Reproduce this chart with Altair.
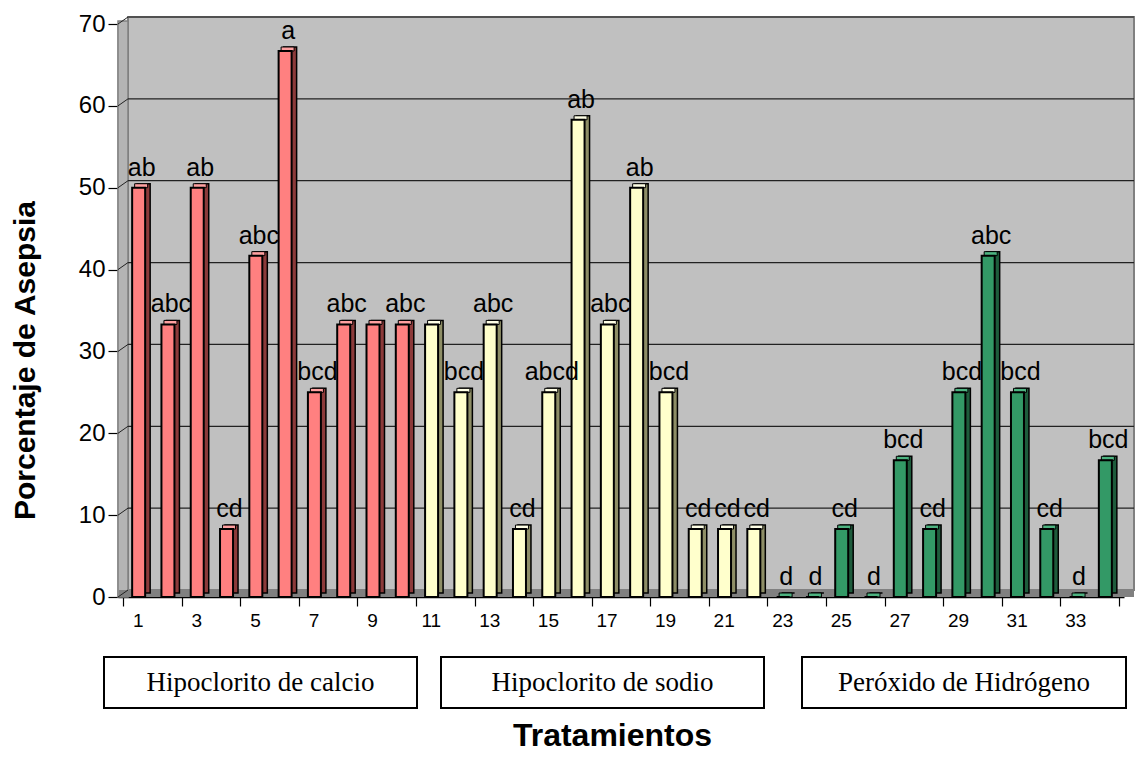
import altair as alt
import pandas as pd

# ---- data ----
tratamientos = list(range(1, 35))
asepsia = [50, 33.3, 50, 8.3, 41.7, 66.7, 25, 33.3, 33.3, 33.3,
           33.3, 25, 33.3, 8.3, 25, 58.3, 33.3, 50, 25, 8.3, 8.3, 8.3,
           0, 0, 8.3, 0, 16.7, 8.3, 25, 41.7, 25, 8.3, 0, 16.7]
letras = ["ab", "abc", "ab", "cd", "abc", "a", "bcd", "abc", "", "abc",
          "", "bcd", "abc", "cd", "abcd", "ab", "abc", "ab", "bcd", "cd", "cd", "cd",
          "d", "d", "cd", "d", "bcd", "cd", "bcd", "abc", "bcd", "cd", "d", "bcd"]
grupos = ["Hipoclorito de calcio", "Hipoclorito de sodio", "Peróxido de Hidrógeno"]
grupo = [grupos[0]] * 10 + [grupos[1]] * 12 + [grupos[2]] * 12
y_ticks = [0, 10, 20, 30, 40, 50, 60, 70]
grid_vals = [10, 20, 30, 40, 50, 60, 70]
x_tick_vals = [i + 0.5 for i in range(0, 35)]

# ---- styles ----
col_front = ["#FF8080", "#FFFFCC", "#339966"]
col_side = ["#8C3A3A", "#8E8E66", "#1E5C3C"]
col_top = ["#FFA0A0", "#FFFFE6", "#4DB380"]
W, H = 1006, 573
FONT = "Liberation Sans"

df = pd.DataFrame({"Tratamiento": tratamientos, "Asepsia": asepsia,
                   "Letra": letras, "Grupo": grupo})
dfg = pd.DataFrame({"v": grid_vals})
dft = pd.DataFrame({"v": y_ticks})
one = pd.DataFrame({"a": [0]})

xscale = alt.Scale(domain=[0.5, 34.5], nice=False, zero=False)
yscale = alt.Scale(domain=[0, 70], nice=False)

x_enc = alt.X("Tratamiento:Q", scale=xscale,
              axis=alt.Axis(values=x_tick_vals, tickSize=9, tickColor="black",
                            domainColor="black", domainWidth=1.5, tickWidth=1.2,
                            labelExpr="(datum.value + 0.5) % 2 == 1 && datum.value < 34 ? format(datum.value + 0.5, 'd') : ''",
                            labelOffset=14.8, labelFontSize=19, labelFont=FONT,
                            labelColor="black", labelPadding=5, labelOverlap=False,
                            labelFlush=False, grid=False,
                            title="Tratamientos", titleFont=FONT, titleFontSize=32,
                            titleFontWeight="bold", titleColor="black",
                            titleX=494, titleY=138, titleBaseline="middle"))
y_enc = alt.Y("Asepsia:Q", scale=yscale,
              axis=alt.Axis(values=y_ticks, tickSize=10, tickColor="black",
                            domainColor="black", domainWidth=1.5, tickWidth=1.2,
                            labelFontSize=24, labelFont=FONT, labelColor="black",
                            labelPadding=3, grid=False,
                            title="Porcentaje de Asepsia", titleFont=FONT,
                            titleFontSize=30, titleFontWeight="bold",
                            titleColor="black", titleX=-93, titleY=336,
                            titleBaseline="middle"))

# 3D walls
wall = alt.Chart(one).mark_rect(fill="#C0C0C0", stroke="#808080", strokeWidth=2).encode(
    x=alt.value(10), x2=alt.value(W + 10), y=alt.value(-7), y2=alt.value(H - 7))
side_wall = alt.Chart(one).mark_rect(fill="#B4B4B4", stroke="#808080", strokeWidth=1.5).encode(
    x=alt.value(0), x2=alt.value(10), y=alt.value(-3), y2=alt.value(H))
floor = alt.Chart(one).mark_rect(fill="#808080").encode(
    x=alt.value(1), x2=alt.value(W + 10), y=alt.value(H - 7), y2=alt.value(H))

grid = alt.Chart(dfg).mark_rule(color="#222222", strokeWidth=1.2, yOffset=-7).encode(
    y=alt.Y("v:Q", scale=yscale), x=alt.value(10), x2=alt.value(W + 10))
diag = alt.Chart(dft).mark_rule(color="#222222", strokeWidth=1, y2Offset=-7).encode(
    y=alt.Y("v:Q", scale=yscale), y2="v:Q", x=alt.value(0), x2=alt.value(10))

base = alt.Chart(df)
side = base.mark_bar(size=13, xOffset=6, yOffset=-4, stroke="black", strokeWidth=1.5).encode(
    x=x_enc, y=y_enc,
    color=alt.Color("Grupo:N", scale=alt.Scale(domain=grupos, range=col_side), legend=None))
top = base.mark_bar(size=13, xOffset=3.5, yOffset=-4, y2Offset=0, stroke="black",
                    strokeWidth=1).encode(
    x="Tratamiento:Q", y="Asepsia:Q", y2="Asepsia:Q",
    color=alt.Color("Grupo:N", scale=alt.Scale(domain=grupos, range=col_top), legend=None))
front = base.mark_bar(size=13, xOffset=1, stroke="black", strokeWidth=2).encode(
    x="Tratamiento:Q", y="Asepsia:Q",
    color=alt.Color("Grupo:N", scale=alt.Scale(domain=grupos, range=col_front), legend=None))
labels = base.mark_text(dx=4, dy=-12, baseline="alphabetic", fontSize=25, font=FONT,
                        color="black").encode(
    x="Tratamiento:Q", y="Asepsia:Q", text="Letra:N")

# group boxes (annotation, below the axis)
box_specs = [(-14, 299), (323, 646), (684, 1008)]
boxes = []
for name, (x0, x1) in zip(grupos, box_specs):
    d = pd.DataFrame({"g": [name]})
    boxes.append(alt.Chart(d).mark_rect(fill="white", stroke="black", strokeWidth=2).encode(
        x=alt.value(x0), x2=alt.value(x1), y=alt.value(633), y2=alt.value(684)))
    boxes.append(alt.Chart(d).mark_text(font="Liberation Serif", fontSize=27, color="black",
                                        baseline="middle", align="center").encode(
        x=alt.value((x0 + x1) / 2), y=alt.value(659), text="g:N"))

chart = alt.layer(wall, side_wall, floor, grid, diag, side, top, front, labels, *boxes).resolve_scale(
    color="independent"
).properties(
    width=W, height=H,
    autosize=alt.AutoSizeParams(type="none"),
    padding={"left": 118, "top": 24, "right": 1141 - 118 - W, "bottom": 773 - 24 - H},
    background="white",
).configure_view(strokeWidth=0, fill=None)

chart.save("out.html", embed_options={"renderer": "svg", "actions": False})
